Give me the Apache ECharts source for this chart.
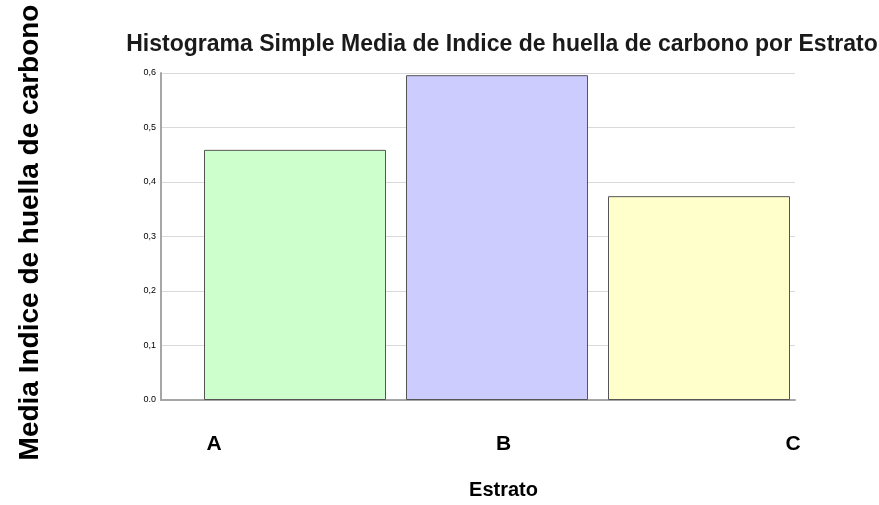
<!DOCTYPE html>
<html>
<head>
<meta charset="utf-8">
<script src="https://cdn.jsdelivr.net/npm/echarts@6/dist/echarts.min.js"></script>
<style>
  html, body { margin: 0; padding: 0; background: #fff; }
  #chart { width: 879px; height: 505px; }
</style>
</head>
<body>
<div id="chart"></div>
<script>
// Mean carbon-footprint index by stratum
const categories = ['A', 'B', 'C'];
const meanValues = [0.459, 0.596, 0.374];
const barColors = ['#ccffcc', '#ccccff', '#ffffcc'];
const yTicks = ['0.0', '0,1', '0,2', '0,3', '0,4', '0,5', '0,6'];

const FONT = '"Liberation Sans", Arial, sans-serif';
const chart = echarts.init(document.getElementById('chart'), null, { renderer: 'canvas' });

chart.setOption({
  backgroundColor: '#ffffff',
  animation: false,
  title: {
    text: 'Histograma Simple Media de Indice de huella de carbono por Estrato',
    left: 497,
    textAlign: 'center',
    top: 28,
    textStyle: { fontFamily: FONT, fontSize: 23, fontWeight: 'bold', color: '#1a1a1a' }
  },
  grid: [
    // frame: value axis, grid lines, baseline
    { left: 161, right: 84, top: 73, bottom: 105 },
    // bars
    { left: 194, right: 79, top: 73, bottom: 105 },
    // category labels and axis title
    { left: 214, right: 86, top: 73, bottom: 105 }
  ],
  xAxis: [
    {
      gridIndex: 0, type: 'category', data: categories,
      axisLine: { show: true, lineStyle: { color: '#a6a6a6', width: 2 } },
      axisTick: { show: false }, axisLabel: { show: false }, splitLine: { show: false }
    },
    {
      gridIndex: 1, type: 'category', data: categories,
      axisLine: { show: false }, axisTick: { show: false }, axisLabel: { show: false }
    },
    {
      gridIndex: 2, type: 'category', data: categories, boundaryGap: false,
      axisLine: { show: false }, axisTick: { show: false },
      axisLabel: { show: true, margin: 35, fontFamily: FONT, fontSize: 21, fontWeight: 'bold', color: '#000' },
      name: 'Estrato', nameLocation: 'middle', nameGap: 81,
      nameTextStyle: { fontFamily: FONT, fontSize: 20, fontWeight: 'bold', color: '#000' }
    }
  ],
  yAxis: [
    {
      gridIndex: 0, type: 'value', min: 0, max: 0.6, interval: 0.1,
      axisLine: { show: true, lineStyle: { color: '#a6a6a6', width: 2 } },
      axisTick: { show: false },
      axisLabel: {
        margin: 5, fontFamily: FONT, fontSize: 9, color: '#000',
        formatter: function (v) { return yTicks[Math.round(v * 10)]; }
      },
      splitLine: { show: true, lineStyle: { color: '#d9d9d9', width: 1 } },
      name: 'Media Indice de huella de carbono', nameLocation: 'middle', nameGap: 117, nameRotate: 90,
      nameTextStyle: { fontFamily: FONT, fontSize: 28, fontWeight: 'bold', color: '#000', padding: [0, 0, 0, 8] }
    },
    {
      gridIndex: 1, type: 'value', min: 0, max: 0.6, interval: 0.1,
      axisLine: { show: false }, axisTick: { show: false }, axisLabel: { show: false }, splitLine: { show: false }
    },
    {
      gridIndex: 2, type: 'value', min: 0, max: 0.6, interval: 0.1,
      axisLine: { show: false }, axisTick: { show: false }, axisLabel: { show: false }, splitLine: { show: false }
    }
  ],
  series: [
    {
      type: 'bar',
      xAxisIndex: 1, yAxisIndex: 1,
      barWidth: 182,
      data: meanValues.map(function (v, i) {
        return { value: v, itemStyle: { color: barColors[i] } };
      }),
      itemStyle: { borderColor: '#555555', borderWidth: 1 }
    }
  ]
});
</script>
</body>
</html>
